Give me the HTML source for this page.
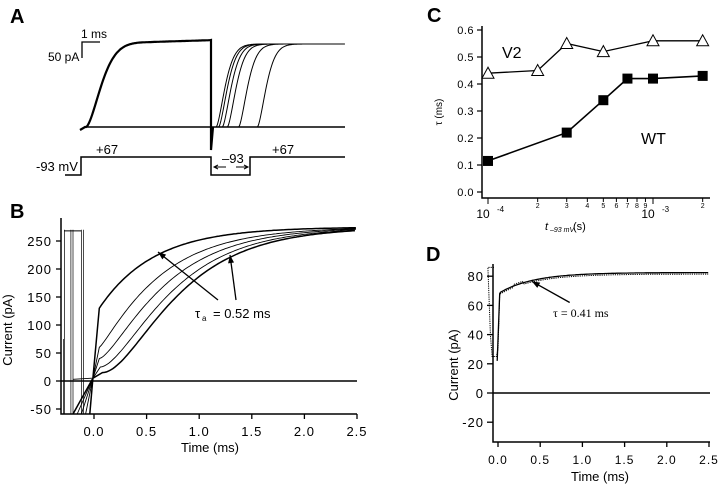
<!DOCTYPE html>
<html><head><meta charset="utf-8"><style>
html,body{margin:0;padding:0;background:#fff}
svg{display:block;font-family:"Liberation Sans",Arial,sans-serif}
</style></head><body>
<svg id="fig" width="720" height="486" viewBox="0 0 720 486" xmlns="http://www.w3.org/2000/svg">
<g id="pA"></g>
<g id="pB"></g>
<g id="pC"></g>
<g id="pD"></g>
</svg>
<script>
// ---- Panel C data ----
const cV2X=[1e-4,2e-4,3e-4,5e-4,1e-3,2e-3];
const cV2Y=[0.44,0.45,0.55,0.52,0.56,0.56];
const cWTX=[1e-4,3e-4,5e-4,7e-4,1e-3,2e-3];
const cWTY=[0.115,0.22,0.34,0.42,0.42,0.43];
const cYTicks=["0.0","0.1","0.2","0.3","0.4","0.5","0.6"];
// ---- Panel B data (trace models) ----
const bOnsets=[0.05,0.05,0.05,0.06,0.08];
const bJumps=[130,60,40,25,15];
const bTaus=[0.52,0.55,0.55,0.55,0.55];
const bPow=[1,1.2,1.5,1.8,2];
const bDropTimes=[-0.28,-0.22,-0.2,-0.12,-0.1];
const bYTicks=[-50,0,50,100,150,200,250];
const bXTicks=["0.0","0.5","1.0","1.5","2.0","2.5"];
// ---- Panel D data ----
const dYTicks=[-20,0,20,40,60,80];
const dXTicks=["0.0","0.5","1.0","1.5","2.0","2.5"];
const dFitTau=[0.41];
// ---- Panel A data ----
const aOnsets2=[0.05,0.15,0.3,0.5,0.95,1.7];

const NS="http://www.w3.org/2000/svg";
function mk(p,tag,at,txt){const e=document.createElementNS(NS,tag);for(const k in at)e.setAttribute(k,at[k]);if(txt!==undefined)e.textContent=txt;p.appendChild(e);return e;}
function path(p,pts,at){return mk(p,'path',Object.assign({d:'M'+pts.map(q=>q[0].toFixed(1)+','+q[1].toFixed(1)).join('L'),fill:'none',stroke:'#000'},at));}
function arrow(g,x1,y1,x2,y2){path(g,[[x1,y1],[x2,y2]],{'stroke-width':1.3});const a=Math.atan2(y1-y2,x1-x2);const L=8,w=3;
const bx=x1-L*Math.cos(a),by=y1-L*Math.sin(a);
mk(g,'polygon',{points:`${x1},${y1} ${bx+w*Math.sin(a)},${by-w*Math.cos(a)} ${bx-w*Math.sin(a)},${by+w*Math.cos(a)}`,fill:'#000'});}

// ===== Panel A =====
(function(){
const g=document.getElementById('pA');
const A=mk(g,'text',{x:10,y:23,'font-size':20,'font-weight':'bold'},'A');

const base=127, plat=42;
const tx=t=>215+t*25;
let p1=[[80,130],[85,127]];
for(let x=86;x<=210;x+=1){const t=(x-86)/22;const v=1-Math.exp(-Math.pow(t,1.6)*1.2);p1.push([x,base-(base-plat)*v-(x>150?(x-150)*0.03:0)]);}
p1.push([211,40],[211,150],[213,127]);
const t1=path(g,p1,{'stroke-width':2.2});

mk(g,'line',{x1:85,y1:127,x2:345,y2:127,stroke:'#000','stroke-width':1.5});
aOnsets2.forEach((o,i)=>{const x0=tx(o);let pts=[[x0-2,127]];for(let x=x0;x<=345;x+=1){const t=(x-x0)/10;const v=1-Math.exp(-Math.pow(t,1.5)*0.8);pts.push([x,base-(base-44)*v]);}
const e=path(g,pts,{'stroke-width':1});});
const sb=path(g,[[100,42],[82,42],[82,58]],{'stroke-width':1.3});
mk(g,'text',{x:81,y:38,'font-size':12},'1 ms');
mk(g,'text',{x:48,y:61,'font-size':12},'50 pA');
const vp=path(g,[[65,175],[81,175],[81,157],[211,157],[211,175],[250,175],[250,157],[345,157]],{'stroke-width':1.5});

mk(g,'text',{x:96,y:154,'font-size':13},'+67');
mk(g,'text',{x:272,y:154,'font-size':13},'+67');
mk(g,'text',{x:36,y:171,'font-size':13},'-93  mV');
mk(g,'text',{x:222,y:163,'font-size':13},'–93');
path(g,[[214,167],[226,167]],{'stroke-width':1});path(g,[[236,167],[248,167]],{'stroke-width':1});
path(g,[[218,165],[214,167],[218,169]],{'stroke-width':1});path(g,[[244,165],[248,167],[244,169]],{'stroke-width':1});
})();

// ===== Panel B =====
(function(){
const g=document.getElementById('pB');
const L=mk(g,'text',{x:10,y:218,'font-size':20,'font-weight':'bold'},'B');

const X=t=>94+t*105.2, Y=v=>381-v*0.56;
const x0=61,yb=414;
const ax=path(g,[[x0,218],[x0,yb],[357,yb]],{'stroke-width':1.5});
bYTicks.forEach(v=>{mk(g,'line',{x1:x0-5,y1:Y(v),x2:x0,y2:Y(v),stroke:'#000','stroke-width':1.3});
const t=mk(g,'text',{x:x0-9,y:Y(v)+5,'font-size':13,'text-anchor':'end','letter-spacing':'1'},String(v));});
bXTicks.forEach(s=>{const x=X(parseFloat(s));mk(g,'line',{x1:x,y1:yb,x2:x,y2:yb+5,stroke:'#000','stroke-width':1.3});
const t=mk(g,'text',{x:x,y:yb+22,'font-size':13,'text-anchor':'middle','letter-spacing':'1'},s);});
const xt=mk(g,'text',{x:210,y:452,'font-size':13,'text-anchor':'middle'},'Time  (ms)');
const yt=mk(g,'text',{x:0,y:0,'font-size':13,'text-anchor':'middle',transform:'translate(12,330) rotate(-90)'},'Current  (pA)');
mk(g,'line',{x1:x0,y1:Y(0),x2:357,y2:Y(0),stroke:'#000','stroke-width':1.5});
path(g,[[x0+3,Y(268)],[X(-0.12),Y(268)]],{'stroke-width':1});
bDropTimes.forEach(d=>{path(g,[[X(d),Y(270)],[X(d),yb]],{'stroke-width':0.7});});
path(g,[[X(-0.29),Y(75)],[X(-0.29),yb]],{'stroke-width':0.7});
path(g,[[X(-0.2),Y(3)],[X(-0.02),Y(5)]],{'stroke-width':0.8});
bOnsets.forEach((o,i)=>{const pts=[];pts.push([X(-0.2+i*0.04),yb]);pts.push([X(-0.01),Y(5)]);pts.push([X(o),Y(bJumps[i])]);
for(let t=o;t<=2.5;t+=0.02){const u=t-o;const v=Math.pow(1-Math.exp(-u/bTaus[i]),bPow[i]);pts.push([X(t),Y(bJumps[i]+(275-bJumps[i])*v)]);}
const e=path(g,pts,{'stroke-width':i==0||i==4?1.5:0.9});});
arrow(g,158,252,218,300);
arrow(g,230,255,236,300);
const an=mk(g,'text',{x:195,y:318,'font-size':13},'τ');
mk(g,'text',{x:202,y:321,'font-size':8},'a');
mk(g,'text',{x:213,y:318,'font-size':13},'=  0.52  ms');
})();

// ===== Panel C =====
(function(){
const g=document.getElementById('pC');
const L=mk(g,'text',{x:427,y:22,'font-size':20,'font-weight':'bold'},'C');

const X=v=>488+(Math.log10(v)+4)*165, Y=v=>192-v*270;
const ax=path(g,[[482,26],[482,198],[710,198]],{'stroke-width':1.5});
cYTicks.forEach(s=>{const y=Y(parseFloat(s));mk(g,'line',{x1:477,y1:y,x2:482,y2:y,stroke:'#000','stroke-width':1.2});
const t=mk(g,'text',{x:474,y:y+4,'font-size':11,'text-anchor':'end','letter-spacing':'0.5'},s);});
[1,2,3,4,5,6,7,8,9,10,20].forEach(m=>{const x=X(m*1e-4);const big=(m==1||m==10);mk(g,'line',{x1:x,y1:198,x2:x,y2:198+(big?6:4),stroke:'#000','stroke-width':1});
if(!big){const t=mk(g,'text',{x:x,y:208,'font-size':7,'text-anchor':'middle'},String(m==20?2:m));}});
[[1e-4,'-4'],[1e-3,'-3']].forEach(a=>{const t=mk(g,'text',{x:X(a[0])-5,y:218,'font-size':12,'text-anchor':'middle'},'10');mk(g,'text',{x:X(a[0])+9,y:212,'font-size':8},a[1]);});
const xt=mk(g,'text',{x:545,y:230,'font-size':11,'font-style':'italic'},'t');
mk(g,'text',{x:550,y:232,'font-size':7,'font-style':'italic'},'–93 mV');
mk(g,'text',{x:573,y:230,'font-size':11},'(s)');
const yt=mk(g,'text',{x:0,y:0,'font-size':10,'text-anchor':'middle',transform:'translate(442,112) rotate(-90)'},'τ  (ms)');
const l1=path(g,cV2X.map((v,i)=>[X(v),Y(cV2Y[i])]),{'stroke-width':1.3});
const l2=path(g,cWTX.map((v,i)=>[X(v),Y(cWTY[i])]),{'stroke-width':1.6});
cV2X.forEach((v,i)=>{const x=X(v),y=Y(cV2Y[i]);const e=mk(g,'polygon',{points:`${x},${y-6} ${x-6},${y+5} ${x+6},${y+5}`,fill:'#fff',stroke:'#000','stroke-width':1});
});
cWTX.forEach((v,i)=>{const x=X(v),y=Y(cWTY[i]);const e=mk(g,'rect',{x:x-5,y:y-5,width:10,height:10,fill:'#000'});
});
const a=mk(g,'text',{x:502,y:58,'font-size':16},'V2');
const b=mk(g,'text',{x:641,y:144,'font-size':16},'WT');
})();

// ===== Panel D =====
(function(){
const g=document.getElementById('pD');
const L=mk(g,'text',{x:426,y:261,'font-size':20,'font-weight':'bold'},'D');

const X=t=>498+t*84.4, Y=v=>393-v*1.46;
const ax=path(g,[[493,264],[493,442],[710,442]],{'stroke-width':1.5});
dYTicks.forEach(v=>{mk(g,'line',{x1:487,y1:Y(v),x2:493,y2:Y(v),stroke:'#000','stroke-width':1.3});
const t=mk(g,'text',{x:484,y:Y(v)+5,'font-size':13,'text-anchor':'end','letter-spacing':'1'},String(v));});
dXTicks.forEach(s=>{const x=X(parseFloat(s));mk(g,'line',{x1:x,y1:442,x2:x,y2:447,stroke:'#000','stroke-width':1.3});
const t=mk(g,'text',{x:x,y:464,'font-size':12,'text-anchor':'middle','letter-spacing':'1'},s);});
const xt=mk(g,'text',{x:600,y:481,'font-size':13,'text-anchor':'middle'},'Time  (ms)');
const yt=mk(g,'text',{x:0,y:0,'font-size':13,'text-anchor':'middle',transform:'translate(458,365) rotate(-90)'},'Current  (pA)');
mk(g,'line',{x1:493,y1:Y(0),x2:710,y2:Y(0),stroke:'#000','stroke-width':1.5});
const tau=dFitTau[0];let dp=[[494,Y(86)],[X(-0.12),Y(86)],[X(-0.09),Y(40)],[X(-0.07),Y(25)],[X(-0.02),Y(25)],[X(0.0),Y(30)],[X(0.02),Y(68)]];
for(let t=0.03;t<=2.5;t+=0.02){dp.push([X(t),Y(68+14.5*(1-Math.exp(-t/tau)))+(((t*100|0)%2)?1.5:-1.5)]);}
const d=path(g,dp,{'stroke-width':1,'stroke-dasharray':'1.2,1'});
let fp=[[X(-0.01),Y(22)],[X(0.02),Y(68)]];for(let t=0.03;t<=2.5;t+=0.02)fp.push([X(t),Y(68+14.5*(1-Math.exp(-t/tau)))]);
const f=path(g,fp,{'stroke-width':1.3});
arrow(g,X(0.4),Y(76.5),X(0.85),Y(62));
const an=mk(g,'text',{x:553,y:317,'font-size':12,'font-family':'Liberation Serif,serif'},'τ  = 0.41 ms');
})();
</script>
</body></html>
